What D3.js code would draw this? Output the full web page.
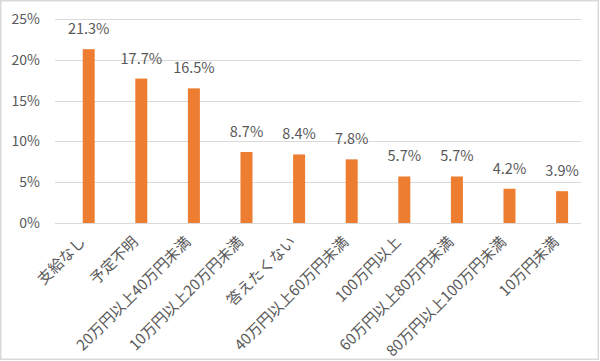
<!DOCTYPE html>
<html><head><meta charset="utf-8">
<script src="https://cdn.jsdelivr.net/npm/d3@7/dist/d3.min.js"></script>
<style>html,body{margin:0;padding:0;background:#fff;}svg{display:block;}</style>
</head><body>
<script>
const categories = ["支給なし","予定不明","20万円以上40万円未満","10万円以上20万円未満","答えたくない","40万円以上60万円未満","100万円以上","60万円以上80万円未満","80万円以上100万円未満","10万円未満"];
const values = [21.3, 17.7, 16.5, 8.7, 8.4, 7.8, 5.7, 5.7, 4.2, 3.9];
const yTicks = [0, 5, 10, 15, 20, 25];

const W = 600, H = 361;
const font = "'Noto Sans CJK JP', 'Noto Sans', sans-serif";
const svg = d3.select("body").append("svg").attr("width", W).attr("height", H);

svg.append("rect").attr("x", 0.75).attr("y", 0.75).attr("width", W - 2.5).attr("height", H - 2.5)
  .attr("fill", "#fff").attr("stroke", "#d9d9d9").attr("stroke-width", 1.5);

const x = d3.scaleBand().domain(categories).range([55, 581]).padding(0);
const y = d3.scaleLinear().domain([0, 25]).range([223, 19]);

// gridlines
svg.append("g").selectAll("line").data(yTicks).join("line")
  .attr("x1", 55).attr("x2", 581)
  .attr("y1", d => Math.round(y(d)) + 0.5).attr("y2", d => Math.round(y(d)) + 0.5)
  .attr("stroke", "#d9d9d9").attr("stroke-width", 1);

// y axis labels
const yAxis = d3.axisLeft(y).tickValues(yTicks).tickFormat(d => d + "%").tickSize(0).tickPadding(0);
const gy = svg.append("g").attr("transform", "translate(40,0)").call(yAxis);
gy.select(".domain").remove();
gy.selectAll("text").attr("font-family", font).attr("font-size", 14).attr("fill", "#595959").attr("dy", "0.32em");

const bw = 12;
const bx = d => x(d) + x.bandwidth() / 2 + 1.4;

svg.append("g").selectAll("rect").data(categories).join("rect")
  .attr("x", d => bx(d)).attr("width", bw)
  .attr("y", (d, i) => y(values[i])).attr("height", (d, i) => y(0) - y(values[i]))
  .attr("fill", "#ED7D31");

svg.append("g").selectAll("text").data(categories).join("text")
  .attr("x", d => bx(d) + bw / 2).attr("y", (d, i) => y(values[i]) - 15)
  .attr("text-anchor", "middle").attr("font-family", font).attr("font-size", 14.5).attr("fill", "#595959")
  .text((d, i) => values[i].toFixed(1) + "%");

// x axis labels
const xAxis = d3.axisBottom(x).tickSize(0).tickPadding(0);
const gx = svg.append("g").attr("transform", "translate(0,223)").call(xAxis);
gx.select(".domain").remove();
gx.selectAll("text").attr("font-family", font).attr("font-size", 15).attr("fill", "#595959")
  .attr("text-anchor", "end").attr("dy", 0)
  .attr("transform", "translate(5,20) rotate(-45)");
</script>
</body></html>
